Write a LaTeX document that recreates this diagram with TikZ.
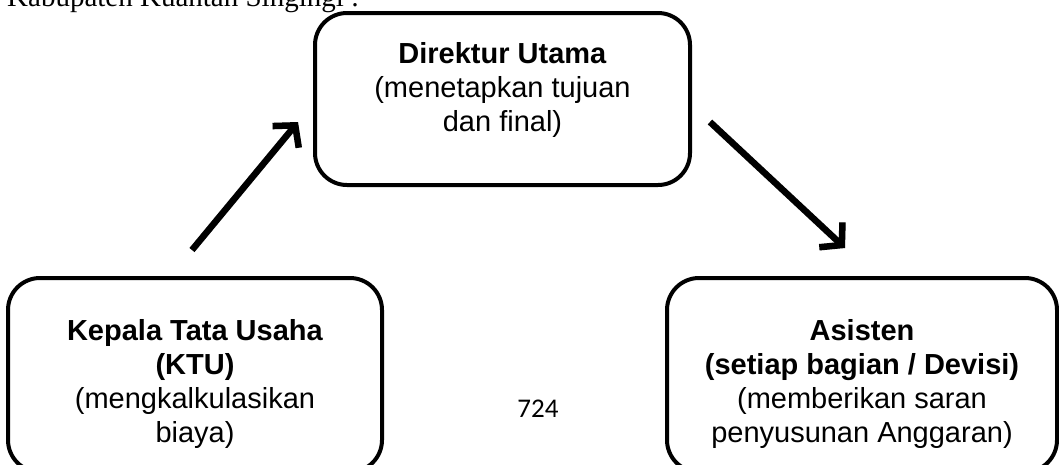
\documentclass[tikz,border=0pt]{standalone}
\usepackage{fontspec}
\setmainfont{Liberation Sans}
\newfontfamily\seriffont{Liberation Serif}
\newfontfamily\calfont{Carlito}
\usetikzlibrary{arrows.meta}
\begin{document}
\begin{tikzpicture}[x=1pt,y=-1pt,
  box/.style={draw, line width=4pt, rounded corners=32pt, inner sep=0pt},
  lbl/.style={align=center, inner sep=0pt, font=\fontsize{29}{34}\selectfont, anchor=base},
  arr/.style={line width=6.5pt, -{Straight Barb[length=15pt,width=34pt]}},
  arrshadow/.style={arr, black!35, opacity=0.5, shift={(2,2)}}]
\useasboundingbox (0,0) rectangle (1059,464);
\clip (0,0) rectangle (1059,464);
% header text (cut off by the page top)
\node[font=\seriffont\fontsize{29}{34}\selectfont, anchor=base west, inner sep=0pt] (hdr) at (7,6) {Kabupaten Kuantan Singingi :};
% boxes
\node[box, minimum width=375pt, minimum height=172pt] (dir) at (502.5,99) {};
\node[box, minimum width=374pt, minimum height=194pt] (ktu) at (195,375) {};
\node[box, minimum width=390pt, minimum height=194pt] (asi) at (862,375) {};
% texts (anchor base = baseline of the last line)
\node[lbl] (dirtxt) at (502.5,131) {\textbf{Direktur Utama}\\(menetapkan tujuan\\dan final)};
\node[lbl] (ktutxt) at (195,442) {\textbf{Kepala Tata Usaha}\\\textbf{(KTU)}\\(mengkalkulasikan\\biaya)};
\node[lbl] (asitxt) at (862,442) {\textbf{Asisten}\\\textbf{(setiap bagian / Devisi)}\\(memberikan saran\\penyusunan Anggaran)};
\node[font=\calfont\fontsize{27}{32}\selectfont, anchor=base, inner sep=0pt] (pg) at (538,417) {724};
% arrows
\coordinate (a1s) at (192,250);
\coordinate (a1e) at (298,122);
\coordinate (a2s) at (710,122);
\coordinate (a2e) at (845,248);
\draw[arrshadow] (a1s) -- (a1e);
\draw[arrshadow] (a2s) -- (a2e);
\draw[arr] (a1s) -- (a1e);
\draw[arr] (a2s) -- (a2e);
\end{tikzpicture}
\end{document}
